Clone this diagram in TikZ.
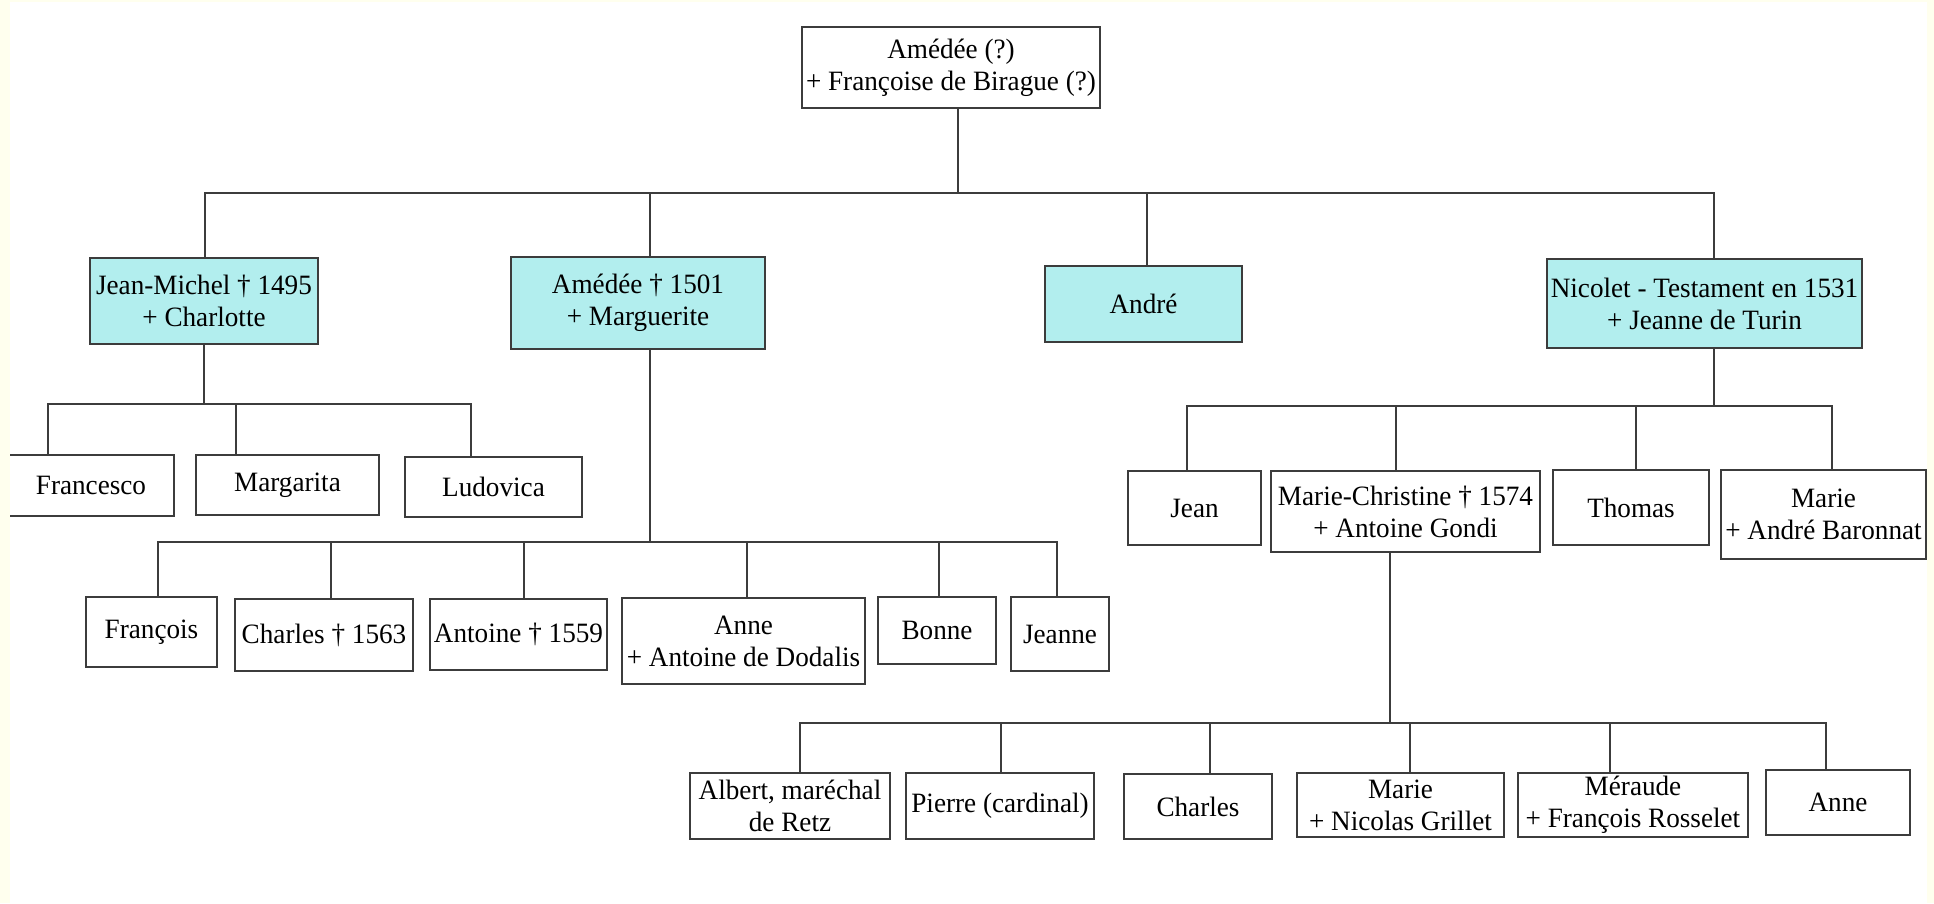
\documentclass[tikz,border=0pt]{standalone}
\usepackage{fontspec}
\setmainfont[FakeStretch=0.97]{Liberation Serif}
\usepackage{xcolor}
\usepackage{tikz}
\usetikzlibrary{positioning, calc}

\definecolor{paper}{RGB}{255,255,238}
\definecolor{heir}{RGB}{178,238,238}
\definecolor{rule}{RGB}{60,60,60}

\begin{document}
\begin{tikzpicture}[
  person/.style={draw=rule, line width=0.6pt, fill=white, inner sep=1pt, align=center,
    font=\fontsize{7.97pt}{9.1pt}\selectfont},
  heirbox/.style={person, fill=heir},
  link/.style={draw=rule, line width=0.6pt}
]
\useasboundingbox (0,0) rectangle (19.34,9.03);
\fill[paper] (0,0) rectangle (19.34,9.03);
\fill[white] (0.10,0) rectangle (19.27,9.01);

% first generation
\node[person, minimum width=2.98cm, minimum height=0.81cm] (top) at (9.51,8.355) {Amédée (?)\\+ Françoise de Birague (?)};

% second generation
\node[heirbox, minimum width=2.28cm, minimum height=0.86cm] (jm) at (2.04,6.02) {Jean-Michel † 1495\\+ Charlotte};
\node[heirbox, minimum width=2.54cm, minimum height=0.92cm] (am) at (6.38,6.00) {Amédée † 1501\\+ Marguerite};
\node[heirbox, minimum width=1.97cm, minimum height=0.76cm] (an) at (11.435,5.99) {André};
\node[heirbox, minimum width=3.15cm, minimum height=0.89cm] (ni) at (17.045,5.995) {Nicolet - Testament en 1531\\+ Jeanne de Turin};

% children of Jean-Michel
\node[person, minimum width=1.66cm, minimum height=0.61cm] (fr) at (0.91,4.175) {Francesco};
\node[person, minimum width=1.83cm, minimum height=0.60cm] (mg) at (2.875,4.18) {Margarita};
\node[person, minimum width=1.77cm, minimum height=0.60cm] (lu) at (4.935,4.16) {Ludovica};

% children of Amédée
\node[person, minimum width=1.31cm, minimum height=0.70cm] (fo) at (1.515,2.71) {François};
\node[person, minimum width=1.78cm, minimum height=0.72cm] (ch) at (3.24,2.68) {Charles † 1563};
\node[person, minimum width=1.77cm, minimum height=0.71cm] (at) at (5.185,2.685) {Antoine † 1559};
\node[person, minimum width=2.43cm, minimum height=0.86cm] (ad) at (7.435,2.62) {Anne\\+ Antoine de Dodalis};
\node[person, minimum width=1.18cm, minimum height=0.67cm] (bo) at (9.37,2.725) {Bonne};
\node[person, minimum width=0.98cm, minimum height=0.74cm] (je) at (10.60,2.69) {Jeanne};

% children of Nicolet
\node[person, minimum width=1.33cm, minimum height=0.74cm] (jn) at (11.945,3.95) {Jean};
\node[person, minimum width=2.69cm, minimum height=0.81cm] (mc) at (14.055,3.915) {Marie-Christine † 1574\\+ Antoine Gondi};
\node[person, minimum width=1.56cm, minimum height=0.75cm] (th) at (16.31,3.955) {Thomas};
\node[person, minimum width=2.05cm, minimum height=0.89cm] (mb) at (18.235,3.885) {Marie\\+ André Baronnat};

% children of Marie-Christine
\node[person, minimum width=2.00cm, minimum height=0.66cm] (al) at (7.90,0.97) {Albert, maréchal\\de Retz};
\node[person, minimum width=1.88cm, minimum height=0.66cm] (pi) at (10.00,0.97) {Pierre (cardinal)};
\node[person, minimum width=1.48cm, minimum height=0.65cm] (cs) at (11.98,0.965) {Charles};
\node[person, minimum width=2.07cm, minimum height=0.64cm] (mn) at (14.005,0.98) {Marie\\+ Nicolas Grillet};
\node[person, minimum width=2.30cm, minimum height=0.64cm] (me) at (16.33,0.98) {Méraude\\+ François Rosselet};
\node[person, minimum width=1.44cm, minimum height=0.65cm] (ae) at (18.38,1.005) {Anne};

% family buses
\coordinate (b0) at (9.58,7.10);
\coordinate (b1) at (2.04,4.99);
\coordinate (b2) at (6.50,3.61);
\coordinate (b3) at (17.14,4.97);
\coordinate (b4) at (13.90,1.80);

\draw[link] (top.south -| b0) -- (b0);
\foreach \n/\dx in {jm/0.01, am/0.12, an/0.035, ni/0.095}
  \draw[link] (b0) -| ([xshift=\dx cm]\n.north);

\draw[link] (jm.south -| b1) -- (b1);
\foreach \n/\dx in {fr/-0.43, mg/-0.515, lu/-0.225}
  \draw[link] (b1) -| ([xshift=\dx cm]\n.north);

\draw[link] (am.south -| b2) -- (b2);
\foreach \n/\dx in {fo/0.065, ch/0.07, at/0.055, ad/0.035, bo/0.02, je/-0.03}
  \draw[link] (b2) -| ([xshift=\dx cm]\n.north);

\draw[link] (ni.south -| b3) -- (b3);
\foreach \n/\dx in {jn/-0.075, mc/-0.095, th/0.05, mb/0.085}
  \draw[link] (b3) -| ([xshift=\dx cm]\n.north);

\draw[link] (mc.south -| b4) -- (b4);
\foreach \n/\dx in {al/0.10, pi/0.01, cs/0.12, mn/0.095, me/-0.23, ae/-0.12}
  \draw[link] (b4) -| ([xshift=\dx cm]\n.north);

% page margin strips
\fill[paper] (0,0) rectangle (0.10,9.03);
\fill[paper] (19.27,0) rectangle (19.34,9.03);
\end{tikzpicture}
\end{document}
